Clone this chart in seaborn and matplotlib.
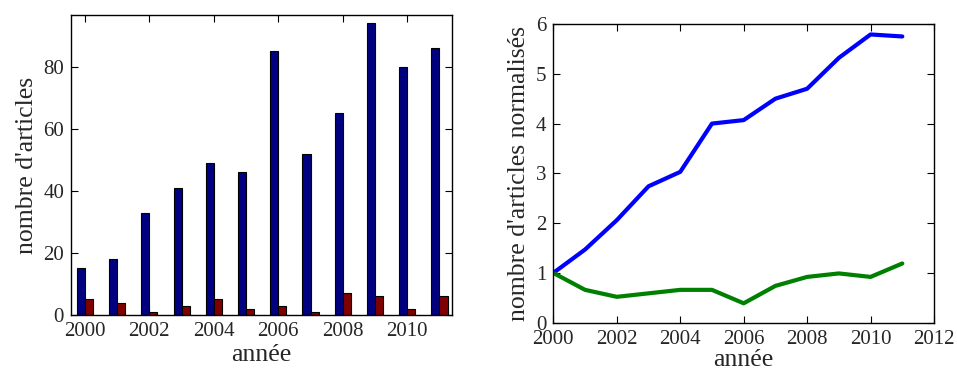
import numpy as np
import pandas as pd
import matplotlib
matplotlib.use("Agg")
import matplotlib.pyplot as plt
import seaborn as sns

# data
years = [2000, 2001, 2002, 2003, 2004, 2005, 2006, 2007, 2008, 2009, 2010, 2011]
articles_a = [15, 18, 33, 41, 49, 46, 85, 52, 65, 94, 80, 86]
articles_b = [5, 4, 1, 3, 5, 2, 3, 1, 7, 6, 2, 6]
norm_a = [1.0, 1.47, 2.06, 2.74, 3.03, 4.0, 4.07, 4.5, 4.7, 5.32, 5.79, 5.75]
norm_b = [1.0, 0.66, 0.52, 0.59, 0.66, 0.66, 0.39, 0.74, 0.92, 0.99, 0.92, 1.19]

sns.set_style("ticks")
plt.rcParams["font.family"] = ["Liberation Serif", "DejaVu Serif"]
plt.rcParams["mathtext.fontset"] = "stix"

bars = pd.DataFrame({
    "year": years * 2,
    "count": articles_a + articles_b,
    "serie": ["a"] * len(years) + ["b"] * len(years),
})
lines = pd.DataFrame({
    "year": years * 2,
    "norm": norm_a + norm_b,
    "serie": ["a"] * len(years) + ["b"] * len(years),
})

fig = plt.figure(figsize=(9.57, 3.7), dpi=100)
ax1 = fig.add_axes([0.0742, 0.1486, 0.3978, 0.8108])
ax2 = fig.add_axes([0.5782, 0.1278, 0.3978, 0.8073])

# left: grouped bars
sns.barplot(data=bars, x="year", y="count", hue="serie", native_scale=True,
            dodge=True, width=0.5, palette=["#000080", "#800000"],
            edgecolor="black", linewidth=0.8, legend=False, ax=ax1,
            errorbar=None, saturation=1)
ax1.set_xlim(1999.57, 2011.38)
ax1.set_ylim(0, 96.6)
ax1.set_xticks([2000, 2002, 2004, 2006, 2008, 2010])
ax1.set_yticks([0, 20, 40, 60, 80])
ax1.set_xlabel("année", fontsize=18.5, labelpad=2)
ax1.set_ylabel("nombre d'articles", fontsize=18.5, labelpad=4)

# right: normalised lines
sns.lineplot(data=lines, x="year", y="norm", hue="serie",
             palette=["#0000ff", "#008000"], linewidth=3, legend=False, ax=ax2)
ax2.set_xlim(2000, 2012)
ax2.set_ylim(0, 6)
ax2.set_xticks([2000, 2002, 2004, 2006, 2008, 2010, 2012])
ax2.set_yticks([0, 1, 2, 3, 4, 5, 6])
ax2.set_xlabel("année", fontsize=18.5, labelpad=0)
ax2.set_ylabel("nombre d'articles normalisés", fontsize=18.5, labelpad=4)

for ax in (ax1, ax2):
    ax.tick_params(direction="in", top=True, right=True, length=5,
                   width=0.8, labelsize=15, pad=5, color="black")
    for sp in ax.spines.values():
        sp.set_visible(True)
        sp.set_linewidth(1.0)
        sp.set_color("black")

fig.savefig("out.png", dpi=100)
